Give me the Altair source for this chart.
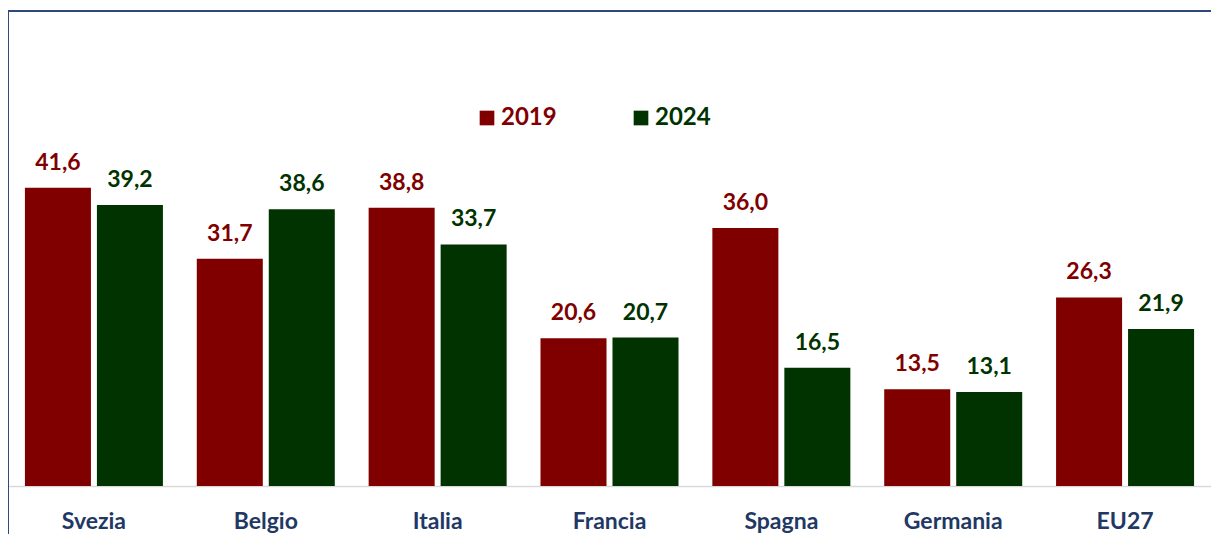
import altair as alt
import pandas as pd

countries = ["Svezia", "Belgio", "Italia", "Francia", "Spagna", "Germania", "EU27"]
years = ["2019", "2024"]
v2019 = [41.6, 31.7, 38.8, 20.6, 36.0, 13.5, 26.3]
v2024 = [39.2, 38.6, 33.7, 20.7, 16.5, 13.1, 21.9]
colors = ["#800000", "#003300"]

rows = []
for c, a, b in zip(countries, v2019, v2024):
    rows.append({"paese": c, "anno": "2019", "valore": a})
    rows.append({"paese": c, "anno": "2024", "valore": b})
df = pd.DataFrame(rows)
df["etichetta"] = df["valore"].map(lambda v: f"{v:.1f}".replace(".", ","))

W, H = 1203, 476
FONT = "Lato"

x = alt.X(
    "paese:N", sort=countries,
    scale=alt.Scale(paddingInner=0.197, paddingOuter=0.0985),
    axis=alt.Axis(title=None, labelAngle=0, ticks=False, labelFont=FONT,
                  labelFontWeight="bold", labelFontSize=23, labelColor="#1F3864",
                  labelPadding=42, labelBaseline="alphabetic",
                  domainColor="#D9D9D9", domainWidth=1.5, grid=False),
)
xo = alt.XOffset("anno:N", sort=years, scale=alt.Scale(paddingInner=0.083, paddingOuter=0))
y = alt.Y("valore:Q", scale=alt.Scale(domain=[0, 66.4], nice=False, zero=True), axis=None)
cscale = alt.Scale(domain=years, range=colors)
color = alt.Color(
    "anno:N", sort=years, scale=cscale, title=None,
    legend=alt.Legend(
        title=None, orient="none", legendX=467, legendY=96, direction="horizontal",
        symbolType="square", symbolSize=215, symbolStrokeWidth=0, symbolOpacity=1,
        labelFont=FONT, labelFontSize=24, labelFontWeight="bold",
        labelColor={"expr": "datum.label == '2019' ? '#800000' : '#003300'"},
        labelOffset=2, columnPadding=72, padding=0,
    ),
)

base = alt.Chart(df)
bars = base.mark_bar().encode(x=x, xOffset=xo, y=y, color=color)
labels = base.mark_text(font=FONT, fontWeight="bold", fontSize=23,
                        baseline="alphabetic", dy=-18).encode(
    x=x, xOffset=xo, y=y, text="etichetta:N", color=color)

frame_df = pd.DataFrame({"k": [0]})
left = alt.Chart(frame_df).mark_rule(color="#2E4A7D", strokeWidth=2).encode(
    x=alt.value(0), y=alt.value(0), y2=alt.value(700))
top = alt.Chart(frame_df).mark_rule(color="#2E4A7D", strokeWidth=2).encode(
    x=alt.value(0), x2=alt.value(1300), y=alt.value(1))

chart = alt.layer(left, top, bars, labels).properties(
    width=W, height=H,
    autosize=alt.AutoSizeParams(type="none"),
    padding={"left": 0, "top": 2, "right": 0, "bottom": 50},
).configure_view(stroke=None).configure(background="white")

chart.save("out.html", embed_options={"renderer": "svg", "actions": False})
